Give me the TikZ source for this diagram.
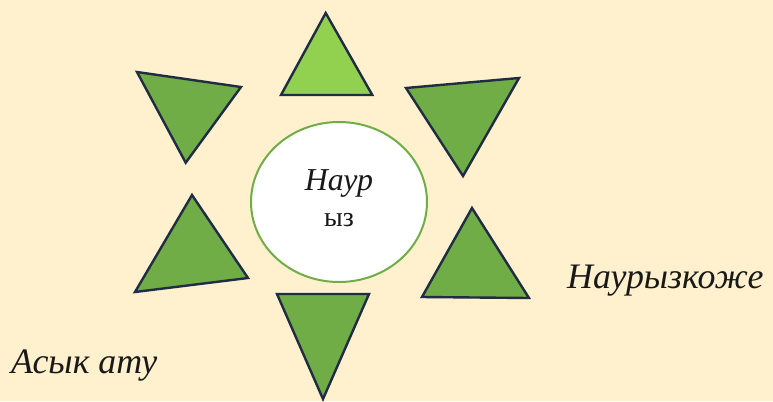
\documentclass[tikz,border=0pt]{standalone}
\usepackage{fontspec}
\setmainfont{Liberation Serif}
\usetikzlibrary{shapes.geometric, positioning}

\definecolor{paper}{RGB}{255,240,206}
\definecolor{leafgreen}{RGB}{112,173,71}
\definecolor{lightleaf}{RGB}{146,208,80}
\definecolor{navyedge}{RGB}{32,44,68}

\begin{document}
\begin{tikzpicture}[
    x=1bp, y=-1bp,
    petal/.style={draw=navyedge, fill=leafgreen, line width=2.4bp, line join=miter},
    hub/.style={ellipse, draw=leafgreen, fill=white, line width=2bp, minimum width=176bp, minimum height=160bp, inner sep=0pt},
    caption/.style={font=\fontsize{36}{38}\selectfont\itshape, inner sep=0pt, text=black!90}
]

% Background
\fill[paper] (0,0) rectangle (773,401);
\useasboundingbox (0,0) rectangle (773,401);

% Triangles around the centre
\draw[petal, fill=lightleaf] (325.7,13) -- (281,95) -- (372.3,95) -- cycle;
\draw[petal] (137,72) -- (241,87) -- (185.7,162.7) -- cycle;
\draw[petal] (406,88) -- (519,78) -- (463,176) -- cycle;
\draw[petal] (192,195) -- (135,292) -- (248,278) -- cycle;
\draw[petal] (472,208) -- (422,297) -- (529,298) -- cycle;
\draw[petal] (277,294) -- (369,294) -- (323,399) -- cycle;

% Centre
\node[hub] (centre) at (339,202) {};
\node[caption, font=\fontsize{32}{34}\selectfont\itshape, anchor=base] (top) at (339,190) {Наур};
\node[caption, font=\fontsize{28}{30}\selectfont, anchor=base] (bottom) at (339,226) {ыз};

% Labels
\node[caption, anchor=base west] (kozhe) at (567,288) {Наурызкоже};
\node[caption, anchor=base west] (asyk) at (11,373) {Асык ату};

\end{tikzpicture}
\end{document}
